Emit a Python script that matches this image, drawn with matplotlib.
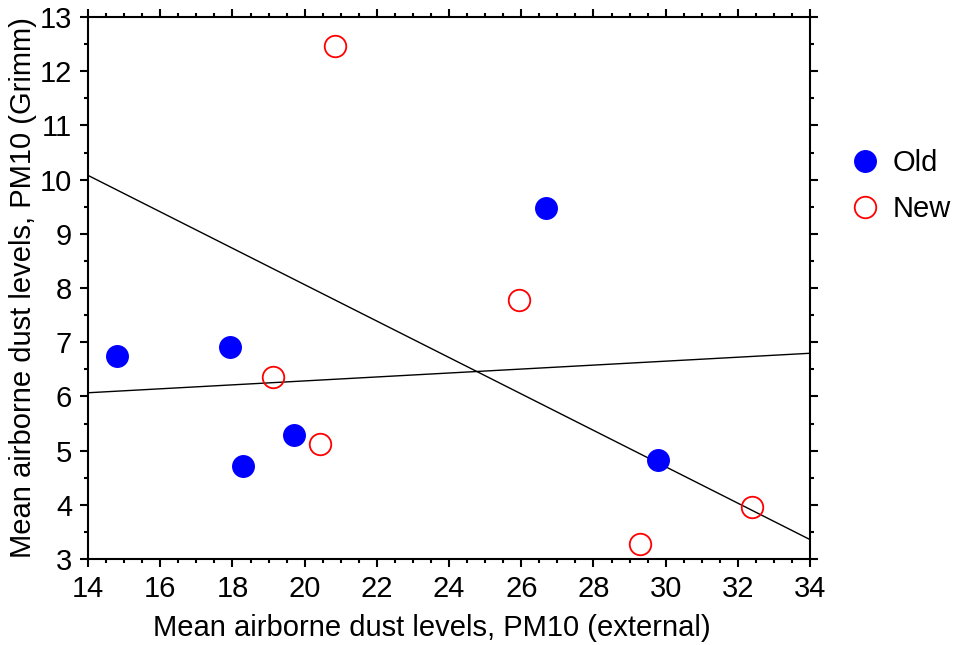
import numpy as np
import matplotlib.pyplot as plt
from matplotlib.ticker import MultipleLocator

plt.rcParams['font.family'] = ['Liberation Sans', 'DejaVu Sans']

# Old samples
old_x = [14.80, 17.93, 18.29, 19.71, 26.69, 29.79]
old_y = [6.75, 6.91, 4.72, 5.29, 9.48, 4.83]
# New samples
new_x = [20.84, 19.12, 20.43, 25.94, 29.29, 32.39]
new_y = [12.46, 6.36, 5.12, 7.78, 3.28, 3.96]

fig = plt.figure(figsize=(9.57, 6.45), dpi=100)
ax = fig.add_axes([0.092, 0.1333, 0.7545, 0.8403])

xs = np.array([14, 34])
for xv, yv in [(old_x, old_y), (new_x, new_y)]:
    k, b = np.polyfit(xv, yv, 1)
    ax.plot(xs, k * xs + b, color='black', lw=1.0, zorder=1)

ax.plot(old_x, old_y, 'o', ms=15.5, color='blue', mec='blue', ls='none', label='Old', zorder=3)
ax.plot(new_x, new_y, 'o', ms=15.5, mfc='none', mec='red', mew=1.3, ls='none', label='New', zorder=3)

ax.set_xlim(14, 34)
ax.set_ylim(3, 13)
ax.xaxis.set_major_locator(MultipleLocator(2))
ax.xaxis.set_minor_locator(MultipleLocator(0.5))
ax.yaxis.set_major_locator(MultipleLocator(1))
ax.yaxis.set_minor_locator(MultipleLocator(0.5))
ax.tick_params(which='both', direction='out', top=True, right=True, width=1.5, labelsize=21)
ax.tick_params(which='major', length=5.5)
ax.tick_params(which='minor', length=3)
ax.tick_params(axis='x', pad=6)
ax.tick_params(axis='y', pad=6)
for s in ax.spines.values():
    s.set_linewidth(1.5)

ax.set_xlabel('Mean airborne dust levels, PM10 (external)', fontsize=21)
ax.xaxis.set_label_coords(0.476, -0.102, transform=ax.transAxes)
ax.set_ylabel('Mean airborne dust levels, PM10 (Grimm)', fontsize=21, labelpad=2)

ax.legend(loc='center left', bbox_to_anchor=(1.009, 0.688), frameon=False, fontsize=21,
          handlelength=1.5, handletextpad=0.2, labelspacing=0.6, numpoints=1)

fig.savefig('out.png', dpi=100)
